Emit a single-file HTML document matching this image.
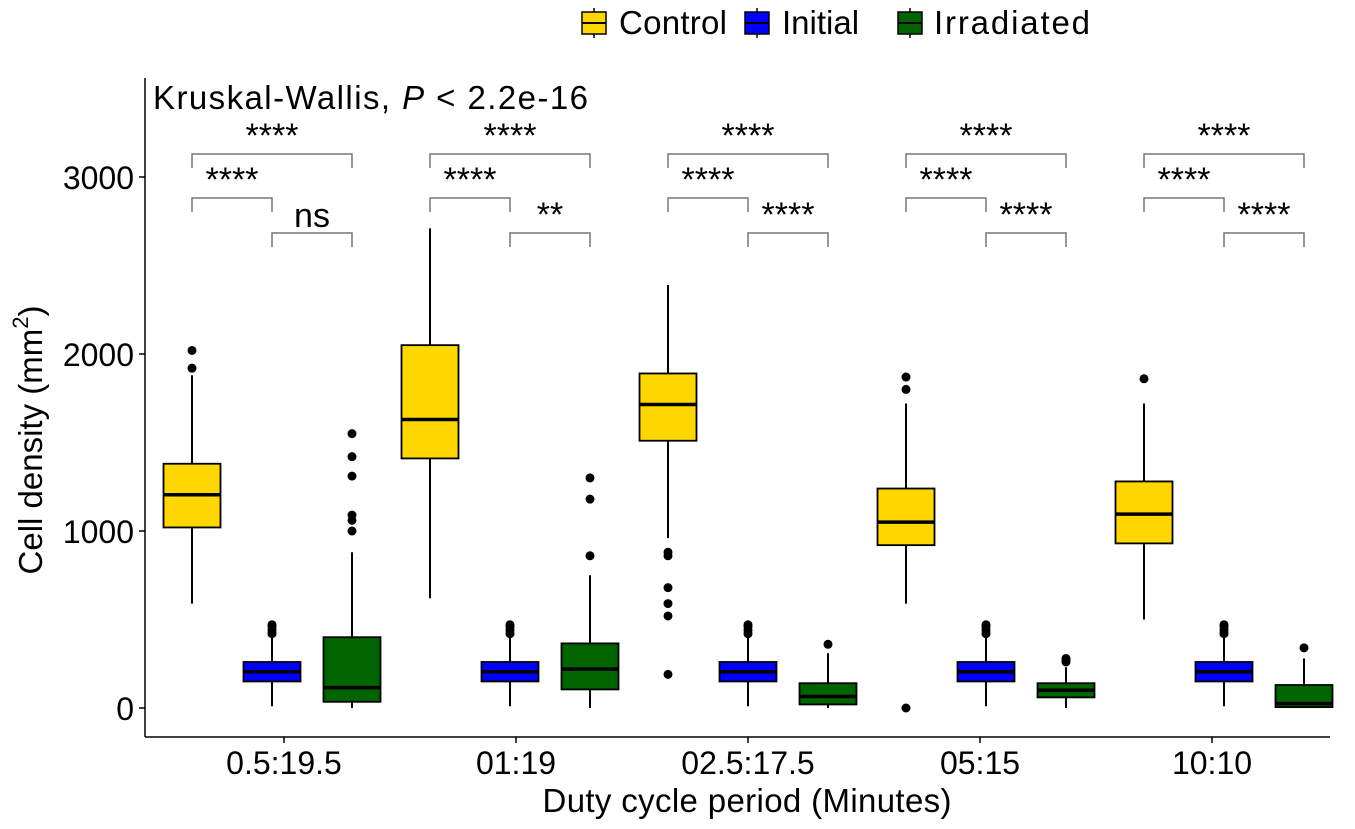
<!DOCTYPE html>
<html><head><meta charset="utf-8"><style>
body{margin:0;background:#fff;}
svg text{font-family:"Liberation Sans",Arial,sans-serif;fill:#000;}
</style></head><body>
<svg id="chart" width="1355" height="824" xmlns="http://www.w3.org/2000/svg">
<g id="legend">
 <g><line x1="594" y1="8" x2="594" y2="38" stroke="#000" stroke-width="1.5"/><rect x="582" y="12" width="24" height="22" fill="#FFD700" stroke="#000" stroke-width="1.5"/><line x1="582" y1="23" x2="606" y2="23" stroke="#000" stroke-width="2"/><text x="619" y="34" font-size="33" textLength="108">Control</text></g>
 <g><line x1="757" y1="8" x2="757" y2="38" stroke="#000" stroke-width="1.5"/><rect x="745" y="12" width="24" height="22" fill="#0000FF" stroke="#000" stroke-width="1.5"/><line x1="745" y1="23" x2="769" y2="23" stroke="#000" stroke-width="2"/><text x="782" y="34" font-size="33">Initial</text></g>
 <g><line x1="910" y1="8" x2="910" y2="38" stroke="#000" stroke-width="1.5"/><rect x="898" y="12" width="24" height="22" fill="#006400" stroke="#000" stroke-width="1.5"/><line x1="898" y1="23" x2="922" y2="23" stroke="#000" stroke-width="2"/><text x="934" y="34" font-size="33" textLength="156">Irradiated</text></g>
</g>
<text x="153" y="109" font-size="33" textLength="435">Kruskal-Wallis, <tspan font-style="italic">P</tspan> &lt; 2.2e-16</text>
<line x1="145" y1="78" x2="145" y2="737" stroke="#000" stroke-width="1.5"/>
<line x1="145" y1="737" x2="1330" y2="737" stroke="#000" stroke-width="1.5"/>
<g id="yticks"></g><g id="xticks"></g>
<text transform="translate(42,440) rotate(-90)" text-anchor="middle" font-size="33">Cell density (mm<tspan dy="-14" font-size="22">2</tspan><tspan dy="14">)</tspan></text>
<text x="747" y="812" text-anchor="middle" font-size="33" textLength="409">Duty cycle period (Minutes)</text>
<g id="boxes"></g><g id="brackets"></g>
</svg>
<script>
const categories=["0.5:19.5","01:19","02.5:17.5","05:15","10:10"];
const yTicks=[0,1000,2000,3000];
// [low, q1, median, q3, high]
const controlStats=[[590,1020,1205,1380,1880],[620,1410,1630,2050,2710],[960,1510,1715,1890,2390],[590,920,1050,1240,1720],[500,930,1095,1280,1720]];
const initialStats=[[10,150,205,260,400],[10,150,205,260,400],[10,150,205,260,400],[10,150,205,260,400],[10,150,205,260,400]];
const irradiatedStats=[[0,35,115,400,880],[0,105,220,365,750],[0,20,65,140,310],[0,60,100,140,230],[0,5,25,130,280]];
const controlOutliers=[[2020,1920],[],[880,860,680,590,520,190],[1870,1800,0],[1860]];
const initialOutliers=[[420,440,460,470],[420,440,460,470],[420,440,460,470],[420,440,460,470],[420,440,460,470]];
const irradiatedOutliers=[[1000,1060,1090,1310,1420,1550],[860,1180,1300],[360],[260,270,280],[340]];
const sigTop=["****","****","****","****","****"];
const sigLeft=["****","****","****","****","****"];
const sigRight=["ns","**","****","****","****"];
const NS="http://www.w3.org/2000/svg";
const yS=v=>708-v*0.177;
const groupX=i=>272+238*i;
const tickX=i=>284+232*i;
function mk(tag,attrs,parent){const e=document.createElementNS(NS,tag);for(const k in attrs)e.setAttribute(k,attrs[k]);parent.appendChild(e);return e;}
const yt=document.getElementById('yticks');
yTicks.forEach(v=>{const g=mk('g',{},yt);


mk('line',{x1:139,x2:145,y1:yS(v),y2:yS(v),stroke:'#000','stroke-width':1.5},g);
const t=mk('text',{x:134,y:yS(v)+12,'text-anchor':'end','font-size':32},g);t.textContent=v;});
const xt=document.getElementById('xticks');
categories.forEach((c,i)=>{const g=mk('g',{},xt);


mk('line',{x1:tickX(i),x2:tickX(i),y1:737,y2:743,stroke:'#000','stroke-width':1.5},g);
const t=mk('text',{x:tickX(i),y:774,'text-anchor':'middle','font-size':32},g);t.textContent=c;});
const bx=document.getElementById('boxes');
function drawBox(s,outs,cx,fill,name){const g=mk('g',{},bx);


const w=57;
mk('line',{x1:cx,x2:cx,y1:yS(s[4]),y2:yS(s[0]),stroke:'#000','stroke-width':2},g);
mk('rect',{x:cx-w/2,y:yS(s[3]),width:w,height:yS(s[1])-yS(s[3]),fill:fill,stroke:'#000','stroke-width':1.8},g);
mk('line',{x1:cx-w/2,x2:cx+w/2,y1:yS(s[2]),y2:yS(s[2]),stroke:'#000','stroke-width':3.5},g);
outs.forEach(o=>mk('circle',{cx:cx,cy:yS(o),r:4.5,fill:'#000'},g));}
categories.forEach((c,i)=>{const gx=groupX(i);
drawBox(controlStats[i],controlOutliers[i],gx-80,'#FFD700','box-control-'+i);
drawBox(initialStats[i],initialOutliers[i],gx,'#0000FF','box-initial-'+i);
drawBox(irradiatedStats[i],irradiatedOutliers[i],gx+80,'#006400','box-irradiated-'+i);});
const br=document.getElementById('brackets');
function bracket(x1,x2,yt,label,ly,fs,name){const g=mk('g',{},br);


mk('path',{d:`M${x1},${yt+14}V${yt}H${x2}V${yt+14}`,fill:'none',stroke:'#777','stroke-width':1.5},g);
const t=mk('text',{x:(x1+x2)/2,y:ly,'text-anchor':'middle','font-size':fs},g);t.textContent=label;}
categories.forEach((c,i)=>{const gx=groupX(i);
bracket(gx-80,gx+80,154,sigTop[i],147,34,'bracket-top-'+i);
bracket(gx-80,gx,198,sigLeft[i],191,34,'bracket-left-'+i);
const r=sigRight[i];
bracket(gx,gx+80,233,r,r==='ns'?227:226,34,'bracket-right-'+i);});
</script>
</body></html>
